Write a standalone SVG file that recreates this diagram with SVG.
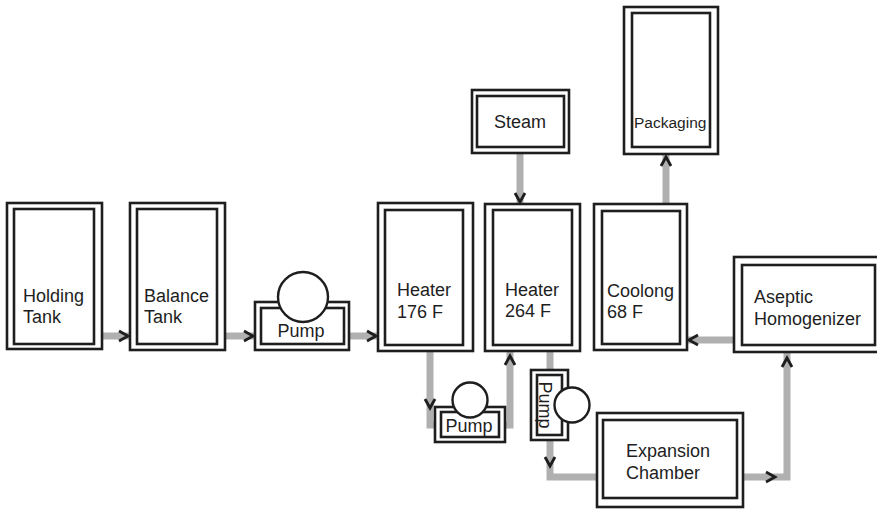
<svg xmlns="http://www.w3.org/2000/svg" width="877" height="510" viewBox="0 0 877 510">
<defs>
<style>
.o{fill:#fff;stroke:#1e1e1e;stroke-width:2.6}
.i{fill:#fff;stroke:#1e1e1e;stroke-width:2.6}
.c{fill:#fff;stroke:#1e1e1e;stroke-width:2.4}
.t{font-family:"Liberation Sans",Arial,sans-serif;font-size:18px;fill:#1e1e1e}
.flow{fill:none;stroke:#b0b0b0;stroke-width:7}
.ah{fill:none;stroke:#1e1e1e;stroke-width:2.8;stroke-linejoin:miter}
</style>
</defs>
<rect width="877" height="510" fill="#fff"/>
<g id="connectors">
<path class="flow" d="M102,336H129"/>
<path class="flow" d="M225,336H254"/>
<path class="flow" d="M349,336H377"/>
<path class="flow" d="M520,153V203"/>
<path class="flow" d="M430,351V425H436"/>
<path class="flow" d="M504,425H510V351"/>
<path class="flow" d="M550,351V371"/>
<path class="flow" d="M550,440V477H598"/>
<path class="flow" d="M743,477H787V352"/>
<path class="flow" d="M734,340H688"/>
<path class="flow" d="M666,204V155"/>
<polyline class="ah" points="119,331 128,336 119,341"/>
<polyline class="ah" points="244,331 253,336 244,341"/>
<polyline class="ah" points="367,331 376,336 367,341"/>
<polyline class="ah" points="515,193 520,202 525,193"/>
<polyline class="ah" points="425,399 430,408 435,399"/>
<polyline class="ah" points="505,365 510,356 515,365"/>
<polyline class="ah" points="545,457 550,466 555,457"/>
<polyline class="ah" points="766,472 775,477 766,482"/>
<polyline class="ah" points="782,367 787,358 792,367"/>
<polyline class="ah" points="698,335 689,340 698,345"/>
<polyline class="ah" points="661,166 666,157 671,166"/>
</g>
<g id="holding-tank">
<rect class="o" x="7" y="203" width="95" height="146"/>
<rect class="i" x="14" y="209" width="80" height="135"/>
<text class="t" x="23" y="302">Holding</text>
<text class="t" x="23" y="323">Tank</text>
</g>
<g id="balance-tank">
<rect class="o" x="130" y="203" width="95" height="147"/>
<rect class="i" x="137" y="209" width="80" height="135"/>
<text class="t" x="144" y="302">Balance</text>
<text class="t" x="144" y="323">Tank</text>
</g>
<g id="pump-1">
<rect class="o" x="255" y="302" width="94" height="48"/>
<rect class="i" x="261" y="308" width="83" height="36"/>
<circle class="c" cx="303" cy="297" r="25"/>
<text class="t" x="301" y="337" text-anchor="middle">Pump</text>
</g>
<g id="heater-176">
<rect class="o" x="378" y="203" width="95" height="148"/>
<rect class="i" x="385" y="210" width="78" height="135"/>
<text class="t" x="397" y="296">Heater</text>
<text class="t" x="397" y="318">176 F</text>
</g>
<g id="steam">
<rect class="o" x="472" y="90" width="97" height="63"/>
<rect class="i" x="477" y="96" width="87" height="51"/>
<text class="t" x="520" y="128" text-anchor="middle">Steam</text>
</g>
<g id="heater-264">
<rect class="o" x="485" y="204" width="95" height="147"/>
<rect class="i" x="493" y="210" width="79" height="135"/>
<text class="t" x="505" y="296">Heater</text>
<text class="t" x="505" y="317">264 F</text>
</g>
<g id="cooling">
<rect class="o" x="594" y="204" width="93" height="146"/>
<rect class="i" x="602" y="211" width="78" height="133"/>
<text class="t" x="607" y="297">Coolong</text>
<text class="t" x="607" y="318">68 F</text>
</g>
<g id="packaging">
<rect class="o" x="624" y="7" width="94" height="147"/>
<rect class="i" x="632" y="13" width="78" height="134"/>
<text class="t" x="634" y="128" style="font-size:15.5px">Packaging</text>
</g>
<g id="aseptic-homogenizer">
<rect class="o" x="734" y="257" width="146" height="95"/>
<rect class="i" x="742" y="265" width="133" height="80"/>
<text class="t" x="754" y="303">Aseptic</text>
<text class="t" x="754" y="325">Homogenizer</text>
</g>
<g id="pump-2">
<rect class="o" x="435" y="407" width="70" height="35"/>
<rect class="i" x="441" y="412" width="58" height="25"/>
<circle class="c" cx="470" cy="400" r="17.5"/>
<text class="t" x="469" y="432" text-anchor="middle">Pump</text>
</g>
<g id="pump-3">
<rect class="o" x="531" y="370" width="37" height="70"/>
<rect class="i" x="537" y="375" width="25" height="60"/>
<circle class="c" cx="572" cy="405" r="17.5"/>
<text class="t" transform="translate(546,405) rotate(90)" x="0" y="7" text-anchor="middle">Pump</text>
</g>
<g id="expansion-chamber">
<rect class="o" x="597" y="413" width="146" height="94"/>
<rect class="i" x="603" y="420" width="134" height="78"/>
<text class="t" x="626" y="457">Expansion</text>
<text class="t" x="626" y="479">Chamber</text>
</g>
</svg>
